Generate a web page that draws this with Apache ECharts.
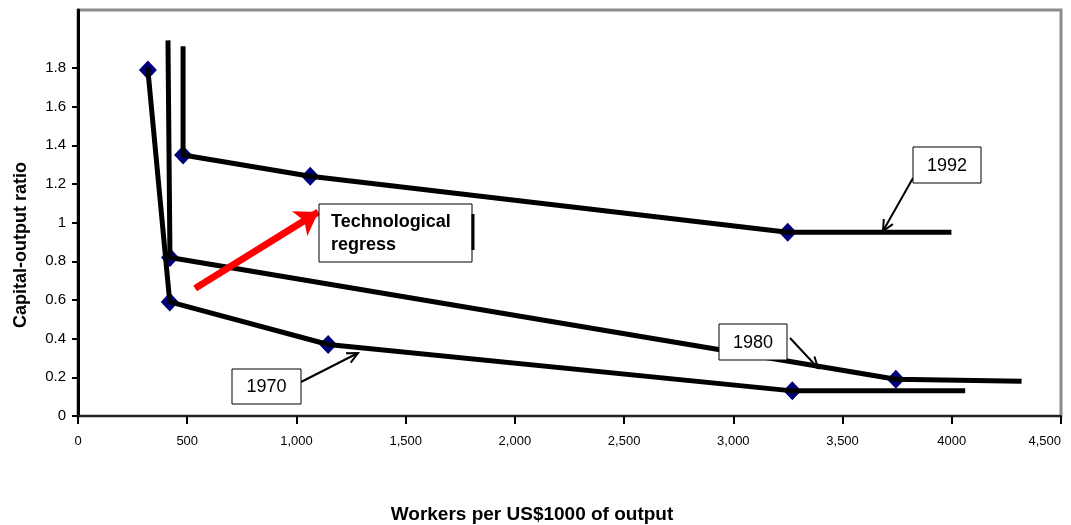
<!DOCTYPE html>
<html>
<head>
<meta charset="utf-8">
<title>Capital-output ratio vs workers per output</title>
<script src="https://cdn.jsdelivr.net/npm/echarts@6/dist/echarts.min.js"></script>
<style>
  html, body { margin: 0; padding: 0; background: #fff; }
  #chart { width: 1071px; height: 525px; }
</style>
</head>
<body>
<div id="chart"></div>
<script>
// workers per US$1000 of output (x) and capital-output ratio (y)
const workers1970 = [320, 420, 1145, 3270, 4050]
const ratio1970 = [1.79, 0.59, 0.37, 0.13, 0.13]
const workers1980 = [412, 421, 3744, 4308]
const ratio1980 = [1.93, 0.82, 0.19, 0.18]
const workers1992 = [481, 481, 1063, 3249, 3987]
const ratio1992 = [1.90, 1.35, 1.24, 0.95, 0.95]

// which points are actual observations (diamonds)
const obs1970 = [0, 1, 2, 3]
const obs1980 = [1, 2]
const obs1992 = [1, 2, 3]

const xTicks = [0, 500, 1000, 1500, 2000, 2500, 3000, 3500, 4000, 4500]
const xTickLabels = ['0', '500', '1,000', '1,500', '2,000', '2,500', '3,000', '3,500', '4000', '4,500']
const yTicks = [0, 0.2, 0.4, 0.6, 0.8, 1, 1.2, 1.4, 1.6, 1.8]
const yTickLabels = ['0', '0.2', '0.4', '0.6', '0.8', '1', '1.2', '1.4', '1.6', '1.8']

// red "technological regress" arrow, in data units
const regressFrom = [536, 0.66]
const regressTo = [1100, 1.055]

const FONT = 'Liberation Sans, Arial, sans-serif'

const pairs = (xs, ys) => xs.map((x, i) => [x, ys[i]])
const picks = (xs, ys, idx) => idx.map(i => [xs[i], ys[i]])

const lineSeries = (name, xs, ys) => ({
  name,
  type: 'line',
  data: pairs(xs, ys),
  showSymbol: false,
  symbol: 'none',
  lineStyle: { color: '#000', width: 5, cap: 'square' },
  z: 3,
  animation: false
})

const dotSeries = (name, xs, ys, idx) => ({
  name: name + ' obs',
  type: 'scatter',
  data: picks(xs, ys, idx),
  symbol: 'diamond',
  symbolSize: [18, 19],
  itemStyle: { color: '#00007a', opacity: 1 },
  z: 2,
  animation: false
})

const chart = echarts.init(document.getElementById('chart'))

const box = (x, y, w, h, lines, bold, shadow) => {
  const els = [{
    type: 'rect',
    shape: { x, y, width: w, height: h },
    style: { fill: '#fff', stroke: '#000', lineWidth: 1 },
    z: 10
  }]
  if (shadow) {
    els.push({
      type: 'line',
      shape: { x1: x + w + 1, y1: y + 10, x2: x + w + 1, y2: y + h - 12 },
      style: { stroke: '#000', lineWidth: 3 },
      z: 10
    })
  }
  els.push({
    type: 'text',
    x: bold ? x + 12 : x + w / 2,
    y: y + h / 2 + 1,
    style: {
      text: lines,
      font: (bold ? 'bold 18px ' : '18px ') + FONT,
      fill: '#000',
      align: bold ? 'left' : 'center',
      verticalAlign: 'middle',
      lineHeight: 23
    },
    z: 11
  })
  return els
}

const pointer = (x1, y1, x2, y2) => {
  const a = Math.atan2(y2 - y1, x2 - x1)
  const L = 12
  const s = 0.45
  return [
    { type: 'line', shape: { x1, y1, x2, y2 }, style: { stroke: '#000', lineWidth: 2 }, z: 10 },
    {
      type: 'polyline',
      shape: { points: [
        [x2 - L * Math.cos(a - s), y2 - L * Math.sin(a - s)],
        [x2, y2],
        [x2 - L * Math.cos(a + s), y2 - L * Math.sin(a + s)]
      ] },
      style: { stroke: '#000', lineWidth: 2, fill: null },
      z: 10
    }
  ]
}

chart.setOption({
  backgroundColor: '#fff',
  animation: false,
  textStyle: { fontFamily: FONT },
  grid: {
    left: 78, right: 10, top: 10, bottom: 109,
    outerBoundsMode: 'none',
    containLabel: false,
    show: true,
    borderColor: '#8c8c8c',
    borderWidth: 3,
    backgroundColor: '#fff'
  },
  xAxis: {
    type: 'value',
    min: 0,
    max: 4500,
    interval: 500,
    axisLine: { show: true, lineStyle: { color: '#222', width: 2 } },
    axisTick: { show: true, length: 8, lineStyle: { color: '#000', width: 2 } },
    axisLabel: {
      color: '#000',
      fontSize: 13,
      margin: 19,
      alignMaxLabel: 'right',
      formatter: v => xTickLabels[xTicks.indexOf(v)] ?? ''
    },
    splitLine: { show: false }
  },
  yAxis: {
    type: 'value',
    min: 0,
    max: 2.1,
    axisLine: { show: true, lineStyle: { color: '#000', width: 3 } },
    axisTick: { show: true, length: 6, customValues: yTicks, lineStyle: { color: '#000', width: 2 } },
    axisLabel: {
      color: '#000',
      fontSize: 15,
      margin: 12,
      customValues: yTicks,
      formatter: v => yTickLabels[yTicks.findIndex(t => Math.abs(t - v) < 1e-6)] ?? ''
    },
    splitLine: { show: false }
  },
  series: [
    lineSeries('1970', workers1970, ratio1970),
    lineSeries('1980', workers1980, ratio1980),
    lineSeries('1992', workers1992, ratio1992),
    dotSeries('1970', workers1970, ratio1970, obs1970),
    dotSeries('1980', workers1980, ratio1980, obs1980),
    dotSeries('1992', workers1992, ratio1992, obs1992),
    {
      name: 'regress',
      type: 'lines',
      coordinateSystem: 'cartesian2d',
      data: [{ coords: [regressFrom, regressTo] }],
      symbol: ['none', 'arrow'],
      symbolSize: 22,
      lineStyle: { color: '#ff0000', width: 7, opacity: 1, curveness: 0 },
      z: 5,
      animation: false
    }
  ],
  graphic: [
    {
      type: 'text',
      x: 21, y: 245,
      rotation: Math.PI / 2,
      style: {
        text: 'Capital-output ratio',
        font: 'bold 18px ' + FONT,
        fill: '#000',
        align: 'center',
        verticalAlign: 'middle'
      }
    },
    {
      type: 'text',
      x: 532, y: 515,
      style: {
        text: 'Workers per US$1000 of output',
        font: 'bold 19px ' + FONT,
        fill: '#000',
        align: 'center',
        verticalAlign: 'middle'
      }
    },
    ...box(319, 204, 153, 58, 'Technological\nregress', true, true),
    ...pointer(913, 178, 883, 231),
    ...box(913, 147, 68, 36, '1992', false, false),
    ...pointer(790, 338, 818, 368),
    ...box(719, 324, 68, 36, '1980', false, false),
    ...pointer(301, 382, 358, 353),
    ...box(232, 369, 69, 35, '1970', false, false)
  ]
})
</script>
</body>
</html>
